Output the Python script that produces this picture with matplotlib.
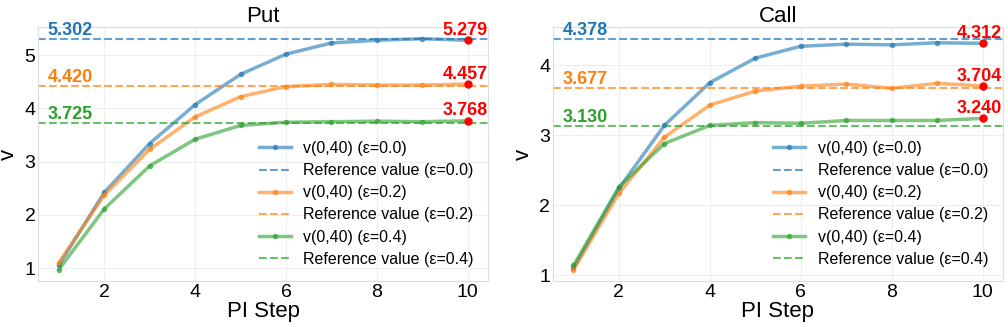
import matplotlib

matplotlib.use("Agg")
import matplotlib.pyplot as plt
import numpy as np

steps = np.arange(1, 11)
eps_labels = ["0.0", "0.2", "0.4"]
colors = ["#1f77b4", "#ff7f0e", "#2ca02c"]

put_v = [
    [1.05, 2.42, 3.34, 4.07, 4.64, 5.02, 5.23, 5.28, 5.31, 5.279],
    [1.10, 2.37, 3.23, 3.84, 4.22, 4.41, 4.45, 4.44, 4.44, 4.457],
    [0.97, 2.11, 2.92, 3.42, 3.68, 3.74, 3.75, 3.76, 3.75, 3.768],
]
put_ref = [5.302, 4.420, 3.725]

call_v = [
    [1.10, 2.24, 3.14, 3.75, 4.10, 4.27, 4.30, 4.29, 4.32, 4.312],
    [1.08, 2.17, 2.97, 3.43, 3.63, 3.70, 3.73, 3.67, 3.74, 3.704],
    [1.14, 2.26, 2.88, 3.14, 3.18, 3.17, 3.21, 3.21, 3.21, 3.240],
]
call_ref = [4.378, 3.677, 3.130]

plt.rcParams["font.family"] = ["Liberation Sans", "DejaVu Sans"]


def draw(ax, title, vals, refs):
    for v, ref, eps, c in zip(vals, refs, eps_labels, colors):
        ax.plot(steps, v, color=c, lw=2.5, alpha=0.6, marker="o", ms=3,
                label=f"v(0,40) (ε={eps})")
        ax.axhline(ref, color=c, ls="--", lw=1.5, alpha=0.7,
                   label=f"Reference value (ε={eps})")
        ax.plot(steps[-1], v[-1], "o", color="red", ms=5, zorder=5)
        ax.annotate(f"{v[-1]:.3f}", (steps[-1], v[-1]), xytext=(-2, 1),
                    textcoords="offset points", ha="center", va="bottom",
                    color="red", fontsize=13, fontweight="bold")
    ax.set_xlim(0.55, 10.45)
    for ref, c in zip(refs, colors):
        ax.text(0.76, ref, f"{ref:.3f}", color=c, fontsize=13,
                fontweight="bold", ha="left", va="bottom")
    ax.set_title(title, fontsize=16, pad=3)
    ax.set_xlabel("PI Step", fontsize=16, labelpad=0)
    ax.set_ylabel("v", fontsize=16, labelpad=4)
    ax.tick_params(labelsize=14, length=0, pad=2)
    ax.set_xticks([2, 4, 6, 8, 10])
    ax.grid(True, color="#eeeeee", lw=0.8)
    for s in ax.spines.values():
        s.set_color("#dddddd")
    ax.legend(loc="lower right", frameon=False, fontsize=11.5,
              handlelength=2, labelspacing=0.45)


fig, axes = plt.subplots(1, 2, figsize=(10.08, 3.27), dpi=100)
draw(axes[0], "Put", put_v, put_ref)
draw(axes[1], "Call", call_v, call_ref)
fig.subplots_adjust(left=0.038, right=0.995, top=0.917, bottom=0.14, wspace=0.144)
fig.savefig("out.png", dpi=100)
